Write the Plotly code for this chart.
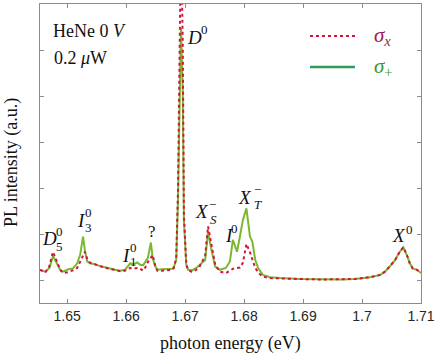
import plotly.graph_objects as go

# photon energy (eV) sample points
energy = [1.6454, 1.6463, 1.6470, 1.6476, 1.6483, 1.6488, 1.6493, 1.6502, 1.6510, 1.6517,
          1.6522, 1.6527, 1.6530, 1.6534, 1.6539, 1.6547, 1.6556, 1.6564, 1.6573, 1.6581,
          1.6590, 1.6598, 1.6607, 1.6612, 1.6619, 1.6624, 1.6629, 1.6632, 1.6637, 1.6642,
          1.6645, 1.6649, 1.6653, 1.6661, 1.6678, 1.6681, 1.6685, 1.6688, 1.6691, 1.6693,
          1.6696, 1.6698, 1.6702, 1.6705, 1.6712, 1.6719, 1.6725, 1.6734, 1.6739, 1.6744,
          1.6751, 1.6759, 1.6769, 1.6776, 1.6781, 1.6788, 1.6793, 1.6798, 1.6804, 1.6810,
          1.6814, 1.6819, 1.6824, 1.6832, 1.6844, 1.6861, 1.6895, 1.6929, 1.6963, 1.6988,
          1.7014, 1.7031, 1.7039, 1.7047, 1.7056, 1.7063, 1.7070, 1.7076, 1.7081, 1.7086,
          1.7093, 1.7100]

# sigma_+ (green, solid)
sigma_plus = [0.24, 0.20, 0.28, 0.54, 0.37, 0.24, 0.20, 0.25, 0.27, 0.38,
              0.56, 0.96, 0.67, 0.42, 0.38, 0.36, 0.32, 0.29, 0.27, 0.24,
              0.22, 0.24, 0.38, 0.35, 0.40, 0.35, 0.34, 0.41, 0.50, 0.83,
              0.50, 0.32, 0.24, 0.25, 0.26, 0.30, 0.45, 1.75, 4.35, 5.48,
              4.13, 1.32, 0.35, 0.24, 0.23, 0.28, 0.35, 0.45, 1.07, 0.71,
              0.31, 0.24, 0.28, 0.42, 0.89, 0.63, 0.96, 1.32, 1.57, 0.96,
              0.85, 0.45, 0.27, 0.13, 0.08, 0.06, 0.04, 0.03, 0.03, 0.04,
              0.08, 0.13, 0.20, 0.31, 0.45, 0.61, 0.73, 0.56, 0.38, 0.27,
              0.24, 0.17]

# sigma_x (red, dotted)
sigma_x = [0.24, 0.18, 0.32, 0.63, 0.41, 0.24, 0.17, 0.19, 0.23, 0.28,
           0.41, 0.55, 0.63, 0.48, 0.39, 0.36, 0.32, 0.28, 0.26, 0.23,
           0.21, 0.22, 0.28, 0.26, 0.28, 0.26, 0.22, 0.28, 0.41, 0.50,
           0.56, 0.35, 0.22, 0.22, 0.24, 0.28, 0.50, 1.97, 5.20, 7.50,
           5.20, 1.43, 0.35, 0.24, 0.19, 0.24, 0.32, 0.54, 1.18, 0.82,
           0.35, 0.20, 0.17, 0.22, 0.26, 0.28, 0.29, 0.39, 0.80, 0.62,
           0.45, 0.28, 0.18, 0.09, 0.06, 0.05, 0.04, 0.03, 0.03, 0.04,
           0.08, 0.13, 0.20, 0.31, 0.45, 0.61, 0.73, 0.56, 0.38, 0.27,
           0.24, 0.17]

x_ticks = [1.65, 1.66, 1.67, 1.68, 1.69, 1.70, 1.71]
x_tick_labels = ["1.65", "1.66", "1.67", "1.68", "1.69", "1.7", "1.71"]
y_ticks = [0, 1, 2, 3, 4, 5]

GREEN = "#7cb82f"
RED = "#d0163a"
SERIF = "Liberation Serif"
SANS = "Liberation Sans"

fig = go.Figure()
fig.add_trace(go.Scatter(x=energy, y=sigma_plus, mode="lines",
                         line=dict(color=GREEN, width=2), showlegend=False))
fig.add_trace(go.Scatter(x=energy, y=sigma_x, mode="lines",
                         line=dict(color=RED, width=2, dash="dot"), showlegend=False))

ann = []
def lab(x, y, t, size=19, xref="x", yref="y", xanchor="center", color="#111", angle=0):
    ann.append(dict(x=x, y=y, xref=xref, yref=yref, text=t, showarrow=False,
                    xanchor=xanchor, yanchor="middle", textangle=angle,
                    font=dict(family=SERIF, size=size, color=color)))

# peak labels
lab(1.67153, 5.28, "<i>D</i>")
lab(1.67331, 5.44, "0", size=13)
lab(1.64695, 0.91, "<i>D</i>")
lab(1.64875, 1.07, "0", size=13)
lab(1.64875, 0.74, "5", size=13)
lab(1.65246, 1.30, "<i>I</i>")
lab(1.65368, 1.48, "0", size=13)
lab(1.65368, 1.15, "3", size=13)
lab(1.66005, 0.56, "<i>I</i>")
lab(1.66127, 0.73, "0", size=13)
lab(1.66127, 0.41, "1", size=13)
lab(1.66436, 1.07, "?", size=17)
lab(1.67283, 1.50, "<i>X</i>")
lab(1.67466, 1.66, "−", size=13)
lab(1.67475, 1.34, "<i>S</i>", size=13)
lab(1.67746, 0.98, "<i>I</i>")
lab(1.67845, 1.14, "0", size=13)
lab(1.68008, 1.81, "<i>X</i>")
lab(1.68220, 1.97, "−", size=13)
lab(1.68229, 1.66, "<i>T</i>", size=13)
lab(1.70627, 0.98, "<i>X</i>")
lab(1.70797, 1.11, "0", size=13)

# text block
lab(0.029, 0.910, "HeNe 0 <i>V</i>", size=18, xref="paper", yref="paper", xanchor="left")
lab(0.032, 0.819, "0.2 <i>μ</i>W", size=18, xref="paper", yref="paper", xanchor="left")

# axis titles
lab(0.499, -0.134, "photon energy (eV)", size=18, xref="paper", yref="paper")
lab(-0.076, 0.468, "PL intensity (a.u.)", size=18, xref="paper", yref="paper", angle=-90)

# legend
lab(0.872, 0.893, "<i>σ</i><sub><i>x</i></sub>", size=21, xref="paper", yref="paper",
    xanchor="left", color="#9b1b5a")
lab(0.872, 0.789, "<i>σ</i><sub>+</sub>", size=21, xref="paper", yref="paper",
    xanchor="left", color="#3a9a2a")
shapes = [
    dict(type="line", xref="paper", yref="paper", x0=0.7087, x1=0.8268, y0=0.893, y1=0.893,
         line=dict(color=RED, width=2, dash="dot")),
    dict(type="line", xref="paper", yref="paper", x0=0.7087, x1=0.8268, y0=0.789, y1=0.789,
         line=dict(color="#2a9d5c", width=2.5)),
]

axis_common = dict(showline=True, linecolor="#8c8c8c", linewidth=1, mirror="allticks",
                   ticks="inside", ticklen=4, tickcolor="#8c8c8c", showgrid=False,
                   zeroline=False, automargin=False)

fig.update_layout(
    width=436, height=357,
    margin=dict(l=40, r=15, t=4, b=54),
    paper_bgcolor="white", plot_bgcolor="white",
    annotations=ann, shapes=shapes,
    xaxis=dict(range=[1.6454, 1.71], tickvals=x_ticks, ticktext=x_tick_labels,
               tickfont=dict(family=SANS, size=14, color="#262626"),
               **axis_common),
    yaxis=dict(range=[-0.48, 6.0], tickvals=y_ticks, showticklabels=False,
               **axis_common),
)

fig.write_html("out.html", config={"displayModeBar": False},
               post_script="document.body.style.margin='0';document.body.style.overflow='hidden';")
